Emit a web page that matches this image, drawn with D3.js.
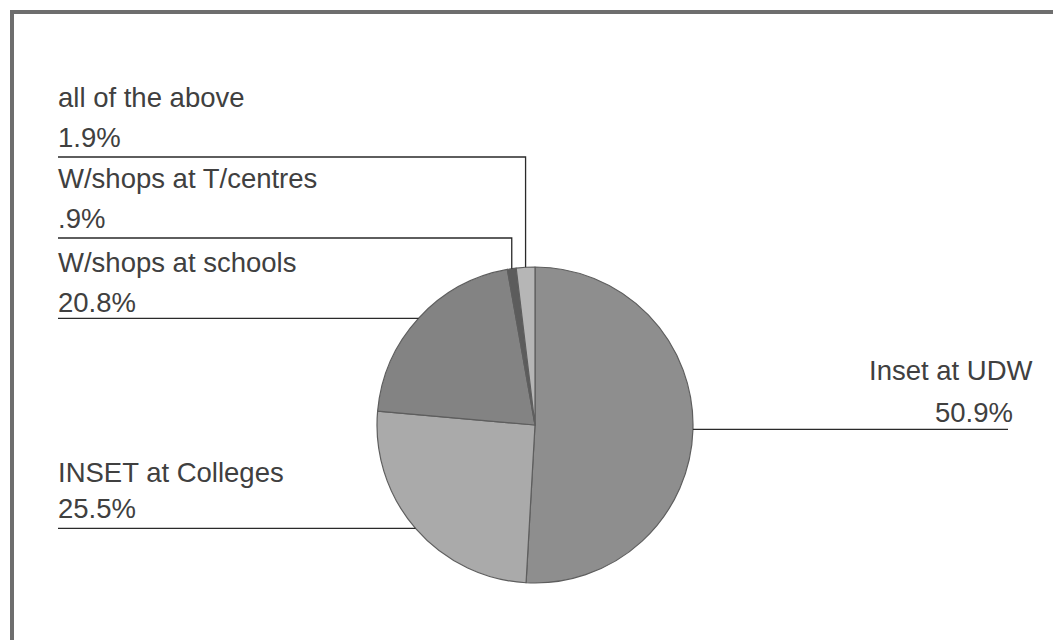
<!DOCTYPE html>
<html>
<head>
<meta charset="utf-8">
<script src="https://cdn.jsdelivr.net/npm/d3@7"></script>
<style>
html,body{margin:0;padding:0;background:#fff;}
svg{display:block;}
</style>
</head>
<body>
<svg id="chart" width="1053" height="640"></svg>
<script>
// ---- data ----
const categories = ["Inset at UDW", "INSET at Colleges", "W/shops at schools", "W/shops at T/centres", "all of the above"];
const values = [50.9, 25.5, 20.8, 0.9, 1.9];
const valueLabels = ["50.9%", "25.5%", "20.8%", ".9%", "1.9%"];

// ---- layout / style (not data) ----
const W = 1053, H = 640;
const cx = 535, cy = 425, R = 158;
const colors = ["#8e8e8e", "#aaaaaa", "#838383", "#5c5c5c", "#b6b6b6"];
const labelLayout = [
  {side: "right", nameX: 869, valX: 1013, nameY: 380, valY: 422, lineEnd: 1008, lineY: null},
  {side: "left",  x: 58, nameY: 482, valY: 518, lineY: null},
  {side: "left",  x: 58, nameY: 272, valY: 312, lineY: null},
  {side: "left",  x: 58, nameY: 188, valY: 228, lineY: 238, elbow: true},
  {side: "left",  x: 58, nameY: 107, valY: 147, lineY: 157, elbow: true}
];

const svg = d3.select("#chart");
svg.append("rect").attr("width", W).attr("height", H).attr("fill", "#fff");

// frame (top + left border)
svg.append("line").attr("x1", 10).attr("x2", W).attr("y1", 12).attr("y2", 12)
  .attr("stroke", "#6e6e6e").attr("stroke-width", 4);
svg.append("line").attr("x1", 12).attr("x2", 12).attr("y1", 10).attr("y2", H)
  .attr("stroke", "#6e6e6e").attr("stroke-width", 4);

const data = categories.map((c, i) => ({name: c, value: values[i], label: valueLabels[i], i}));
const pie = d3.pie().value(d => d.value).sort(null).startAngle(0).endAngle(2 * Math.PI);
const arcs = pie(data);
const arc = d3.arc().innerRadius(0).outerRadius(R);

const g = svg.append("g").attr("transform", `translate(${cx},${cy})`);
g.selectAll("path.slice").data(arcs).enter().append("path")
  .attr("class", "slice")
  .attr("d", arc)
  .attr("fill", d => colors[d.data.i])
  .attr("stroke", "#5e5e5e")
  .attr("stroke-width", 1.2)
  .attr("stroke-linejoin", "round");

// leader lines & labels
const lines = svg.append("g").attr("stroke", "#2a2a2a").attr("stroke-width", 1.3).attr("fill", "none");
const texts = svg.append("g").attr("font-family", "'Liberation Sans', Arial, sans-serif")
  .attr("font-size", 27.5).attr("fill", "#404040");

arcs.forEach(a => {
  const L = labelLayout[a.data.i];
  const mid = (a.startAngle + a.endAngle) / 2;
  const px = cx + R * Math.sin(mid);
  const py = cy - R * Math.cos(mid);
  if (L.side === "right") {
    lines.append("polyline").attr("points", `${px},${py} ${L.lineEnd},${py}`);
    texts.append("text").attr("x", L.nameX).attr("y", L.nameY).text(a.data.name);
    texts.append("text").attr("x", L.valX).attr("y", L.valY).attr("text-anchor", "end").text(a.data.label);
  } else {
    if (L.elbow) {
      lines.append("polyline").attr("points", `${L.x},${L.lineY} ${px},${L.lineY} ${px},${py}`);
    } else {
      lines.append("polyline").attr("points", `${L.x},${py} ${px},${py}`);
    }
    texts.append("text").attr("x", L.x).attr("y", L.nameY).text(a.data.name);
    texts.append("text").attr("x", L.x).attr("y", L.valY).text(a.data.label);
  }
});
</script>
</body>
</html>
